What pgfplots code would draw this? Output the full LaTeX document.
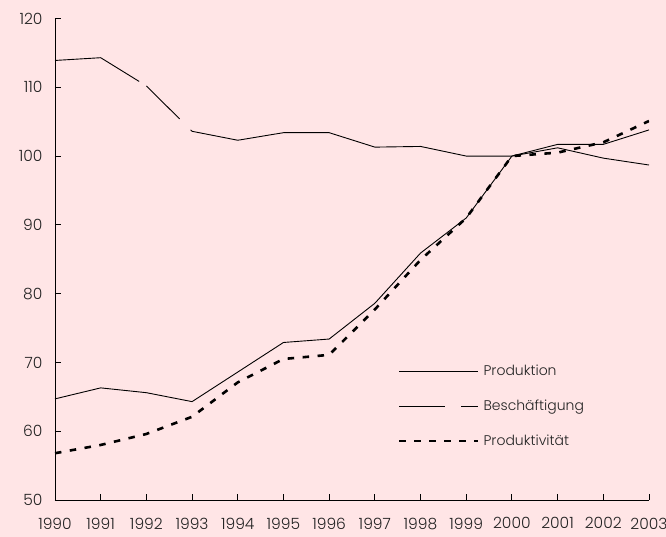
\documentclass[border=0pt]{standalone}
\usepackage{fontspec}
\setmainfont{Poppins}[UprightFont=* Light]
\usepackage{pgfplots}
\pgfplotsset{compat=1.18}
\definecolor{bg}{RGB}{255,229,230}
\definecolor{txt}{RGB}{35,35,35}
\begin{document}
\begin{tikzpicture}[x=1pt,y=1pt]
\fill[bg] (0,0) rectangle (666,537);
\begin{axis}[
 at={(55pt,37pt)}, anchor=south west,
 scale only axis, width=594pt, height=481.5pt,
 xmin=1990, xmax=2003, ymin=50, ymax=120,
 axis lines=left, axis line style={-, black, line width=0.8pt},
 xtick={1990,...,2003}, minor x tick num=1,
 ytick={50,60,...,120},
 tick align=inside, major tick length=6pt, minor tick length=3.5pt,
 tick style={black, line width=0.8pt},
 /pgf/number format/assume math mode=true,
 /pgf/number format/set thousands separator={},
 x tick label style={font=\fontsize{15.5}{17}\selectfont, text=txt, yshift=-16.5pt, inner sep=1pt},
 y tick label style={font=\fontsize{15.5}{17}\selectfont, text=txt, xshift=-9pt},
 legend style={draw=none, fill=none, inner sep=0pt, outer sep=0pt,
   at={(0.5774,0.2845)}, anchor=north west,
   font=\fontsize{14}{15}\selectfont, text=txt,
   row sep=19pt, column sep=2pt},
 legend cell align=left,
 legend image code/.code={\draw[#1] (0pt,0pt) -- (79pt,0pt);},
]
\addplot[black, line width=0.9pt] coordinates {
 (1990,64.7) (1991,66.3) (1992,65.6) (1993,64.3) (1994,68.6) (1995,72.9)
 (1996,73.4) (1997,78.6) (1998,85.9) (1999,91.0) (2000,100.0) (2001,101.7)
 (2002,101.7) (2003,103.8)};
\addlegendentry{Produktion}
\addplot[black, line width=0.9pt, dash pattern=on 91pt off 8.6pt on 46.7pt off 15.5pt on 3000pt,
  legend image code/.code={\draw[black, line width=0.9pt, dash pattern=on 46pt off 16pt on 17pt] (0pt,0pt) -- (79pt,0pt);}] coordinates {
 (1990,113.9) (1991,114.3) (1992,110.2) (1993,103.6) (1994,102.3) (1995,103.4)
 (1996,103.4) (1997,101.3) (1998,101.4) (1999,100.0) (2000,100.0) (2001,101.2)
 (2002,99.7) (2003,98.7)};
\addlegendentry{Beschäftigung}
\addplot[black, line width=2.6pt, dash pattern=on 6.5pt off 8.5pt] coordinates {
 (1990,56.8) (1991,58.0) (1992,59.6) (1993,62.1) (1994,67.1) (1995,70.5)
 (1996,71.1) (1997,77.7) (1998,84.9) (1999,91.0) (2000,100.0) (2001,100.5)
 (2002,102.0) (2003,105.1)};
\addlegendentry{Produktivität}
\end{axis}
\pgfresetboundingbox
\useasboundingbox (0,0) rectangle (666,537);
\end{tikzpicture}
\end{document}
